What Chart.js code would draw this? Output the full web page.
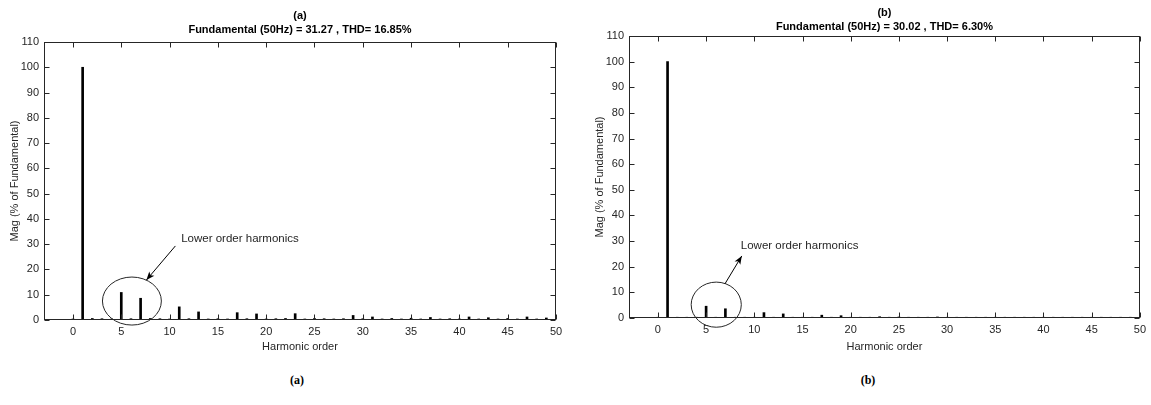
<!DOCTYPE html>
<html><head><meta charset="utf-8">
<script src="https://cdn.jsdelivr.net/npm/chart.js@4.4.1/dist/chart.umd.min.js"></script>
<style>
html,body{margin:0;padding:0;background:#fff;width:1151px;height:405px;overflow:hidden;}
.wrap{position:absolute;top:0;}
canvas{display:block;}
.cap{position:absolute;top:373px;font:bold 12px 'Liberation Serif','Times New Roman',serif;color:#000;transform:translateX(-50%);white-space:nowrap;}
</style></head><body>
<div class="wrap" style="left:0px"><canvas id="chartA" width="575" height="360"></canvas></div>
<div class="wrap" style="left:585px"><canvas id="chartB" width="566" height="360"></canvas></div>
<div class="cap" style="left:297px">(a)</div>
<div class="cap" style="left:868px">(b)</div>
<script>
// ---- data ----
const harmonics = [0,1,2,3,4,5,6,7,8,9,10,11,12,13,14,15,16,17,18,19,20,21,22,23,24,25,26,27,28,29,30,31,32,33,34,35,36,37,38,39,40,41,42,43,44,45,46,47,48,49];
const magA = [0.4,100,0.6,0.5,0.4,10.9,0.5,8.6,0.6,0.5,
              0.4,5.2,0.5,3.2,0.4,0.5,0.4,2.9,0.5,2.4,
              0.4,0.5,0.6,2.5,0.4,0.6,0.5,0.4,0.5,1.8,
              0.5,1.2,0.4,0.6,0.4,0.7,0.4,1.0,0.4,0.5,
              0.4,1.2,0.4,0.9,0.4,0.6,0.4,1.2,0.4,0.8];
const magB = [0.3,100,0.3,0.3,0.3,4.6,0.3,3.6,0.3,0.3,
              0.3,2.1,0.3,1.6,0.3,0.3,0.3,1.1,0.3,0.9,
              0.3,0.3,0.3,0.5,0.3,0.4,0.3,0.3,0.3,0.4,
              0.3,0.3,0.3,0.3,0.3,0.3,0.3,0.3,0.3,0.3,
              0.3,0.3,0.3,0.3,0.3,0.3,0.3,0.3,0.3,0.3];
const xTickValues = [0,5,10,15,20,25,30,35,40,45,50];
const yTickValues = [0,10,20,30,40,50,60,70,80,90,100,110];
const titleA = ['(a)', 'Fundamental (50Hz) = 31.27 , THD= 16.85%'];
const titleB = ['(b)', 'Fundamental (50Hz) = 30.02 , THD= 6.30%'];
const xAxisLabel = 'Harmonic order';
const yAxisLabel = 'Mag (% of Fundamental)';
const noteText = 'Lower order harmonics';

// annotation geometry (data units)
const noteA = {ellipse:{cx:6.1, cy:7.5, rx:3.05, ry:9.5}, arrow:{x0:10.6, y0:29.3, x1:7.6, y1:15.8}, text:{x:11.2, y:32.1}};
const noteB = {ellipse:{cx:6.05, cy:5.2, rx:2.6, ry:8.8}, arrow:{x0:6.95, y0:13.3, x1:8.7, y1:24.2}, text:{x:8.6, y:28.1}};

const INK = '#262626';
Chart.defaults.font.family = "'Liberation Sans', Arial, Helvetica, sans-serif";
Chart.defaults.font.size = 11;
Chart.defaults.color = INK;

const framePlugin = {
  id: 'frame',
  afterDatasetsDraw(chart, args, opts) {
    const {ctx, chartArea: a} = chart;
    const x = chart.scales.x, y = chart.scales.y;
    ctx.save();
    ctx.strokeStyle = INK; ctx.lineWidth = 1;
    const L = Math.round(a.left) + 0.5, R = Math.round(a.right) - 0.5;
    const T = Math.round(a.top) + 0.5, B = Math.round(a.bottom) - 0.5;
    ctx.strokeRect(L, T, R - L, B - T);
    ctx.beginPath();
    for (const v of yTickValues) {
      const py = Math.round(y.getPixelForValue(v)) + 0.5;
      ctx.moveTo(L, py); ctx.lineTo(L + 5, py);
      ctx.moveTo(R, py); ctx.lineTo(R - 5, py);
    }
    for (const v of xTickValues) {
      const px = Math.round(x.getPixelForValue(v)) + 0.5;
      ctx.moveTo(px, B); ctx.lineTo(px, B - 5);
      ctx.moveTo(px, T); ctx.lineTo(px, T + 5);
    }
    ctx.stroke();
    const n = opts.note;
    if (n) {
      const e = n.ellipse;
      const cx = x.getPixelForValue(e.cx), cy = y.getPixelForValue(e.cy);
      const rx = Math.abs(x.getPixelForValue(e.cx + e.rx) - cx);
      const ry = Math.abs(y.getPixelForValue(e.cy + e.ry) - cy);
      ctx.beginPath(); ctx.ellipse(cx, cy, rx, ry, 0, 0, Math.PI * 2); ctx.stroke();
      const ar = n.arrow;
      const x0 = x.getPixelForValue(ar.x0), y0 = y.getPixelForValue(ar.y0);
      const x1 = x.getPixelForValue(ar.x1), y1 = y.getPixelForValue(ar.y1);
      ctx.strokeStyle = '#000'; ctx.fillStyle = '#000';
      ctx.beginPath(); ctx.moveTo(x0, y0); ctx.lineTo(x1, y1); ctx.stroke();
      const ang = Math.atan2(y1 - y0, x1 - x0), len = 9, hw = 0.38;
      ctx.beginPath();
      ctx.moveTo(x1, y1);
      ctx.lineTo(x1 - len * Math.cos(ang - hw), y1 - len * Math.sin(ang - hw));
      ctx.lineTo(x1 - len * 0.7 * Math.cos(ang), y1 - len * 0.7 * Math.sin(ang));
      ctx.lineTo(x1 - len * Math.cos(ang + hw), y1 - len * Math.sin(ang + hw));
      ctx.closePath(); ctx.fill();
      ctx.fillStyle = INK;
      ctx.font = "11.5px 'Liberation Sans', Arial, sans-serif";
      ctx.textAlign = 'left'; ctx.textBaseline = 'middle';
      ctx.fillText(noteText, x.getPixelForValue(n.text.x), y.getPixelForValue(n.text.y));
    }
    ctx.restore();
  }
};

function makeChart(id, mags, title, note, pad, titlePad, xHeight) {
  return new Chart(document.getElementById(id), {
    type: 'bar',
    data: {
      datasets: [{
        data: harmonics.map((h, i) => ({x: h, y: mags[i]})),
        backgroundColor: '#000',
        borderWidth: 0,
        barThickness: 2
      }]
    },
    options: {
      responsive: false,
      animation: false,
      devicePixelRatio: 1,
      layout: {padding: pad},
      plugins: {
        legend: {display: false},
        tooltip: {enabled: false},
        title: {display: true, text: title, fullSize: false, color: '#000',
                font: {size: 11, weight: 'bold', lineHeight: 1.3}, padding: titlePad},
        frame: {note: note}
      },
      scales: {
        x: {
          type: 'linear', min: -3, max: 50, offset: false,
          grid: {display: false, drawTicks: false, offset: false},
          border: {display: false},
          afterBuildTicks: s => { s.ticks = xTickValues.map(v => ({value: v})); },
          ticks: {padding: 5, color: INK, font: {size: 11}, callback: v => String(v)},
          title: {display: true, text: xAxisLabel, color: INK, font: {size: 11}, padding: {top: 0, bottom: 0}},
          afterFit: s => { s.height = xHeight; }
        },
        y: {
          min: 0, max: 110,
          grid: {display: false, drawTicks: false},
          border: {display: false},
          afterBuildTicks: s => { s.ticks = yTickValues.map(v => ({value: v})); },
          ticks: {padding: 5, color: INK, font: {size: 11}, callback: v => String(v)},
          title: {display: true, text: yAxisLabel, color: INK, font: {size: 11}, padding: {top: 8, bottom: 0}},
          afterFit: s => { s.width = 44; }
        }
      }
    },
    plugins: [framePlugin]
  });
}

makeChart('chartA', magA, titleA, noteA, {left: 0, right: 19, top: 0, bottom: 6}, {top: 9, bottom: 4.4}, 34);
makeChart('chartB', magB, titleB, noteB, {left: 0, right: 8, top: 0, bottom: 6}, {top: 6, bottom: 1.4}, 36);
</script>
</body></html>
